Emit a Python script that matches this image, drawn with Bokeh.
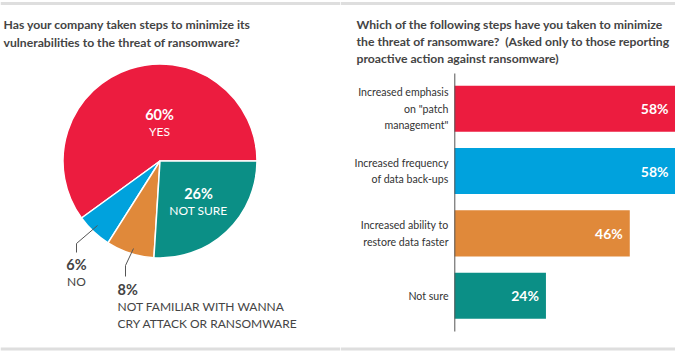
import numpy as np
from bokeh.plotting import figure
from bokeh.layouts import row
from bokeh.models import Range1d
from bokeh.core.properties import value
from bokeh.embed import file_html
from bokeh.resources import INLINE

# ---- data ----
pie_labels = ["YES", "NO", "NOT FAMILIAR WITH WANNA CRY ATTACK OR RANSOMWARE", "NOT SURE"]
pie_values = [60, 6, 8, 26]
pie_colors = ["#EC1C3F", "#00A2DD", "#E0893A", "#0B8F86"]

bar_categories = ['Increased emphasis\non "patch\nmanagement"',
                  "Increased frequency\nof data back-ups",
                  "Increased ability to\nrestore data faster",
                  "Not sure"]
bar_values = [58, 58, 46, 24]
bar_colors = ["#EC1C3F", "#00A2DD", "#E0893A", "#0B8F86"]

left_title = ["Has your company taken steps to minimize its",
              "vulnerabilities to the threat of ransomware?"]
right_title = ["Which of the following steps have you taken to minimize",
               "the threat of ransomware?\u00a0 (Asked only to those reporting",
               "proactive action against ransomware)"]

FONT = value("Lato")
H = 351
DARK = "#444444"
GRAY = "#DEDEDE"
TITLE_SIZE = "12.2px"

# ---------------- left: pie ----------------
LW = 340
pl = figure(width=LW, height=H, x_range=Range1d(0, LW), y_range=Range1d(0, H),
            output_backend="svg", toolbar_location=None, min_border=0)
pl.axis.visible = False
pl.grid.visible = False
pl.outline_line_color = None

def Y(y):
    return H - y

fr = np.array(pie_values, dtype=float) / sum(pie_values)
ends = np.cumsum(fr) * 2 * np.pi
starts = np.concatenate([[0.0], ends[:-1]])
cx, cy, r = 159.5, Y(160.5), 97
pl.wedge(x=cx, y=cy, radius=r, start_angle=starts, end_angle=ends,
         fill_color=pie_colors, line_color="white", line_width=1.5)

# gray separators
pl.segment(x0=[0, 0], y0=[Y(3), Y(348.5)], x1=[LW, LW], y1=[Y(3), Y(348.5)],
           line_color=GRAY, line_width=3)

# title
pl.text(x=[3, 3], y=[Y(24), Y(42)], text=left_title, text_font=FONT,
        text_font_style="bold", text_font_size=TITLE_SIZE, text_color=DARK,
        text_baseline="middle", text_align="left")

# in-pie labels
pl.text(x=[159, 198], y=[Y(114), Y(193)], text=[f"{pie_values[0]}%", f"{pie_values[3]}%"],
        text_font=FONT, text_font_style="bold", text_font_size="14.5px",
        text_color="white", text_baseline="middle", text_align="center")
pl.text(x=[159, 198], y=[Y(131), Y(210)], text=[pie_labels[0], pie_labels[3]],
        text_font=FONT, text_font_size="12px", text_color="white",
        text_baseline="middle", text_align="center")

# outside labels
pl.text(x=[76], y=[Y(264)], text=[f"{pie_values[1]}%"], text_font=FONT,
        text_font_style="bold", text_font_size="14.5px", text_color=DARK,
        text_baseline="middle", text_align="center")
pl.text(x=[76], y=[Y(281)], text=[pie_labels[1]], text_font=FONT,
        text_font_size="12px", text_color=DARK, text_baseline="middle", text_align="center")
pl.text(x=[117], y=[Y(289)], text=[f"{pie_values[2]}%"], text_font=FONT,
        text_font_style="bold", text_font_size="14.5px", text_color=DARK,
        text_baseline="middle", text_align="left")
pl.text(x=[117, 117], y=[Y(306), Y(323)],
        text=["NOT FAMILIAR WITH WANNA", "CRY ATTACK OR RANSOMWARE"], text_font=FONT,
        text_font_size="12px", text_color=DARK, text_baseline="middle", text_align="left")

# leader lines
pl.multi_line(xs=[[97, 76, 76], [133, 125, 125]],
              ys=[[Y(225), Y(243), Y(252)], [Y(248), Y(265), Y(276)]],
              line_color="#555555", line_width=1)

# ---------------- right: bars ----------------
RW = 335
px_per = (675 - 454) / 58.0
x0 = -(454 - LW) / px_per
step = 62.35
top_center = 108.2
pr = figure(width=RW, height=H, x_range=Range1d(x0, 58),
            y_range=Range1d((H - top_center) / step, -top_center / step),
            output_backend="svg", toolbar_location=None, min_border=0)
pr.axis.visible = False
pr.grid.visible = False
pr.outline_line_color = None
pr.extra_x_ranges = {"px": Range1d(0, RW)}
pr.extra_y_ranges = {"px": Range1d(H, 0)}

idx = list(range(len(bar_categories)))
pr.hbar(y=idx, left=0, right=bar_values, height=0.74, fill_color=bar_colors,
        line_color=None)

pr.segment(x0=[0, 0], y0=[3, 348.5], x1=[RW, RW], y1=[3, 348.5],
           line_color=GRAY, line_width=3, x_range_name="px", y_range_name="px")
pr.segment(x0=[454.3 - LW], y0=[73], x1=[454.3 - LW], y1=[331],
           line_color="#555555", line_width=1, x_range_name="px", y_range_name="px")

pr.text(x=[16, 16, 16], y=[24, 41, 58], text=right_title, text_font=FONT,
        text_font_style="bold", text_font_size=TITLE_SIZE, text_color=DARK,
        text_baseline="middle", text_align="left", x_range_name="px", y_range_name="px")

pr.text(x=[448 - LW] * len(idx), y=idx, text=bar_categories, text_font=FONT,
        text_font_size="10.6px", text_color="#333333", text_baseline="middle",
        text_align="right", text_line_height=1.37, x_range_name="px")

pr.text(x=bar_values, y=idx, text=[f"{v}%" for v in bar_values], text_font=FONT,
        text_font_style="bold", text_font_size="14px", text_color="white",
        text_baseline="middle", text_align="right", x_offset=-7)

layout = row(pl, pr, spacing=0)
open("out.html", "w").write(file_html(layout, INLINE))
